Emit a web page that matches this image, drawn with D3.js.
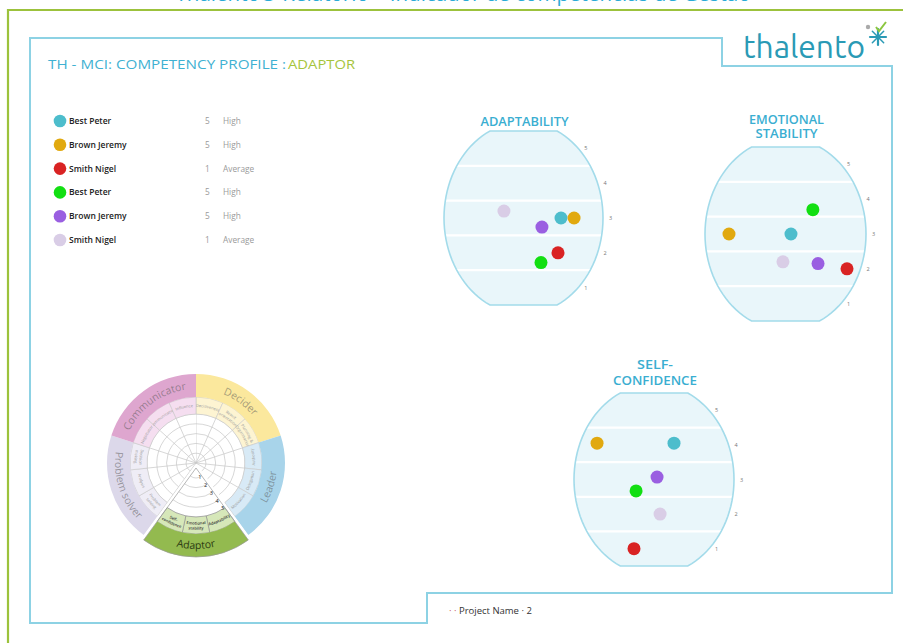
<!DOCTYPE html>
<html><head><meta charset="utf-8">
<script src="https://cdn.jsdelivr.net/npm/d3@7"></script>
<style>body{margin:0;background:#fff}svg{display:block}</style>
</head><body><svg id="c" width="903" height="643"></svg>
<script>
// ---------- data ----------
const reportTitle = "Thalento® Relatório – Indicador de competências de Gestão";
const headerMain = "TH - MCI: COMPETENCY PROFILE : ";
const headerProfile = "ADAPTOR";
const people = ["Best Peter","Brown Jeremy","Smith Nigel","Best Peter","Brown Jeremy","Smith Nigel"];
const personColors = ["#4dbdcc","#e1a90f","#d92323","#12df12","#9a5fe1","#d9cde6"];
const scores = [5,5,1,5,5,1];
const scoreLevels = ["High","High","Average","High","High","Average"];
const panelTitles = [["ADAPTABILITY"],["EMOTIONAL","STABILITY"],["SELF-","CONFIDENCE"]];
const scaleTicks = [1,2,3,4,5];
// per-panel values (order follows people array)
const adaptabilityValue = [3.0,3.0,2.0,1.72,2.74,3.2];
const adaptabilitySpread = [73.6,81.8,71.7,61.0,61.6,37.7];
const emotionalValue = [3.0,3.0,2.0,3.7,2.15,2.2];
const emotionalSpread = [53.4,14.9,88.2,67.0,70.2,48.4];
const confidenceValue = [4.05,4.05,1.0,2.67,3.07,2.0];
const confidenceSpread = [62.5,14.4,37.5,38.8,51.9,53.8];
// wheel
const wheelCategories = ["Decider","Leader","Adaptor","Problem solver","Communicator"];
const wheelSubs = [
  ["Decisiveness","Result|orientation","Planning &|Organisation"],
  ["Authority","Delegation","Motivation"],
  ["Adaptability","Emotional|stability","Self-|confidence"],
  ["Problem|solving","Analysis","Decision|making"],
  ["Negotiator","Communication","Influence"]
];
const wheelOuterColors = ["#fbe89d","#a8d4ea","#93ba4f","#dcd8ea","#dea6cf"];
const wheelInnerColors = ["#fdf4d2","#d8eaf6","#d6e7b9","#efedf6","#f5def0"];
const wheelLevels = [1,2,3,4,5];
const footerText = "Project Name · 2";

// ---------- drawing ----------
const svg = d3.select("#c");
const FONT = "'Open Sans', 'DejaVu Sans', sans-serif";

// top report title (cut by page edge)
svg.append("text").attr("x",463).attr("y",1.2).attr("text-anchor","middle")
  .attr("font-family",FONT).attr("font-size",20).attr("fill","#2aabd6")
  .attr("textLength",575).attr("lengthAdjust","spacingAndGlyphs").text(reportTitle);

// green outer frame
svg.append("path").attr("d","M903,10 H8 V643").attr("fill","none")
  .attr("stroke","#9cc23c").attr("stroke-width",2.2);

// blue inner frame
svg.append("path").attr("d","M30,38 H722 V66 H892 V593 H427 V623 H30 Z")
  .attr("fill","none").attr("stroke","#8dd2e4").attr("stroke-width",2);

// header
svg.append("text").attr("x",48).attr("y",69).attr("font-family",FONT).attr("font-size",13.5)
  .attr("fill","#3fb1d2").attr("textLength",238).attr("lengthAdjust","spacingAndGlyphs").text(headerMain);
svg.append("text").attr("x",288).attr("y",69).attr("font-family",FONT).attr("font-size",13.5)
  .attr("fill","#a6c53c").attr("textLength",67).attr("lengthAdjust","spacingAndGlyphs").text(headerProfile);

// logo
const logo = svg.append("g");
logo.append("text").attr("x",743).attr("y",58).attr("font-family","Ubuntu, 'Open Sans', sans-serif")
  .attr("font-size",31).attr("fill","#2a9ab5").attr("textLength",122).attr("lengthAdjust","spacingAndGlyphs").text("thalento");
const star = logo.append("g").attr("transform","translate(878,37)");
[0,45,90,135].forEach(a=>{
  star.append("line").attr("x1",-8).attr("x2",8).attr("y1",0).attr("y2",0)
    .attr("transform",`rotate(${a})`).attr("stroke","#2a9ab5").attr("stroke-width",a%90===0?2.2:1.5).attr("stroke-linecap","round");
});
star.append("path").attr("d","M-2,-10 L1,-6 L8,-15").attr("fill","none").attr("stroke","#8cc63f").attr("stroke-width",2);
star.append("circle").attr("cx",-10).attr("cy",-10).attr("r",2.2).attr("fill","#aaa");

// legend
const legendY = d3.scalePoint().domain(d3.range(people.length)).range([121,240]);
const leg = svg.append("g");
people.forEach((p,i)=>{
  const y = legendY(i);
  leg.append("circle").attr("cx",60).attr("cy",y).attr("r",6.3).attr("fill",personColors[i]);
  leg.append("text").attr("x",69).attr("y",y+3).attr("font-family",FONT).attr("font-size",8.5)
    .attr("font-weight",600).attr("fill","#222").text(p);
  leg.append("text").attr("x",205).attr("y",y+3).attr("font-family",FONT).attr("font-size",8.3)
    .attr("fill","#9a9a9a").text(scores[i]);
  leg.append("text").attr("x",223).attr("y",y+3).attr("font-family",FONT).attr("font-size",8.3)
    .attr("fill","#9a9a9a").text(scoreLevels[i]);
});

// barrel panels
const panelBoxes = [
  {left:444, top:131, w:159, h:174, titleY:[126], titleW:[88]},
  {left:705, top:147, w:161, h:174, titleY:[124,138], titleW:[75,62]},
  {left:574, top:393, w:160, h:173, titleY:[369,385], titleW:[36,84]}
];
const panelValues = [adaptabilityValue, emotionalValue, confidenceValue];
const panelSpreads = [adaptabilitySpread, emotionalSpread, confidenceSpread];

panelBoxes.forEach((b,pi)=>{
  const g = svg.append("g");
  const cx = b.left + b.w/2, cy = b.top + b.h/2;
  const rx = b.w/2, ry = (b.h/2)*1.103;
  const y = d3.scaleLinear().domain([0.5,5.5]).range([b.top+b.h, b.top]);
  const x = d3.scaleLinear().domain([0,100]).range([b.left, b.left+b.w]);
  const a0 = Math.asin((b.h/2)/ry);
  const pts = [];
  d3.range(0,41).forEach(k=>{ const a=-a0+2*a0*k/40; pts.push([cx+rx*Math.cos(a), cy+ry*Math.sin(a)]); });
  d3.range(0,41).forEach(k=>{ const a=Math.PI-a0+2*a0*k/40; pts.push([cx+rx*Math.cos(a), cy-ry*Math.sin(a-Math.PI)]); });
  const shape = d3.line()(pts)+"Z";
  const clipId = "clip"+pi;
  g.append("clipPath").attr("id",clipId).append("path").attr("d",shape);
  g.append("path").attr("d",shape).attr("fill","#e9f6fa");
  g.append("g").attr("clip-path",`url(#${clipId})`).selectAll("line").data([1.5,2.5,3.5,4.5]).join("line")
    .attr("x1",b.left-5).attr("x2",b.left+b.w+5).attr("y1",d=>y(d)).attr("y2",d=>y(d))
    .attr("stroke","#fff").attr("stroke-width",2.2);
  g.append("path").attr("d",shape).attr("fill","none").attr("stroke","#a3dbea").attr("stroke-width",1.6);
  g.selectAll("text.tk").data(scaleTicks).join("text").attr("class","tk")
    .attr("x",d=>{ const dy=(y(d)-cy)/ry; return cx + rx*Math.sqrt(Math.max(0,1-dy*dy)) + 6; })
    .attr("y",d=>y(d)+2).attr("font-family",FONT).attr("font-size",5.5).attr("fill","#777").text(d=>d);
  panelTitles[pi].forEach((t,k)=>{
    g.append("text").attr("x",cx+1).attr("y",b.titleY[k]).attr("text-anchor","middle")
      .attr("font-family",FONT).attr("font-size",12).attr("font-weight",600).attr("fill","#3aaed1")
      .attr("textLength",b.titleW[k]).attr("lengthAdjust","spacingAndGlyphs").text(t);
  });
  g.selectAll("circle.dot").data(people.map((p,i)=>i)).join("circle").attr("class","dot")
    .attr("cx",i=>x(panelSpreads[pi][i])).attr("cy",i=>y(panelValues[pi][i]))
    .attr("r",6.5).attr("fill",i=>personColors[i]);
});

// ---------- competency wheel ----------
const W = {cx:196, cy:463, R0:49, R1:66, R2:89};
const seg = 2*Math.PI/wheelCategories.length;
const rLevel = d3.scaleLinear().domain([0,5]).range([0,W.R0]);
const wheel = svg.append("g").attr("transform",`translate(${W.cx},${W.cy})`);
let pid = 0;
function pt(r,a){ return [r*Math.sin(a), -r*Math.cos(a)]; }
function arcPathStr(r,a0,a1,ccw){
  const p = d3.path();
  if(!ccw){ p.moveTo(...pt(r,a0)); p.arc(0,0,r,a0-Math.PI/2,a1-Math.PI/2,false); }
  else { p.moveTo(...pt(r,a1)); p.arc(0,0,r,a1-Math.PI/2,a0-Math.PI/2,true); }
  return p.toString();
}
function arcText(parent,r,a0,a1,ccw,txt,size,color,weight){
  const id = "tp"+(pid++);
  parent.append("path").attr("id",id).attr("d",arcPathStr(r,a0,a1,ccw)).attr("fill","none");
  parent.append("text").attr("font-family",FONT).attr("font-size",size).attr("fill",color)
    .attr("font-weight",weight||400)
    .append("textPath").attr("href","#"+id).attr("startOffset","50%").attr("text-anchor","middle").text(txt);
}
const gridStroke = "#c6c6c6";
function drawSegment(parent,i,emph){
  const a0=i*seg, a1=(i+1)*seg, mid=(a0+a1)/2;
  const m = ((mid*180/Math.PI)%360);
  const ccw = m>90 && m<270;
  parent.append("path").attr("d",d3.arc()({innerRadius:0,outerRadius:W.R0,startAngle:a0,endAngle:a1}))
    .attr("fill","#fff");
  wheelLevels.forEach(v=>{
    parent.append("path").attr("d",arcPathStr(rLevel(v),a0,a1,false)).attr("fill","none")
      .attr("stroke",gridStroke).attr("stroke-width",0.7);
  });
  if(!emph){
    d3.range(3).forEach(j=>{
      const a=a0+j*seg/3; const p=pt(W.R0,a);
      parent.append("line").attr("x1",0).attr("y1",0).attr("x2",p[0]).attr("y2",p[1])
        .attr("stroke",gridStroke).attr("stroke-width",0.7);
    });
  }
  wheelSubs[i].forEach((s,j)=>{
    const b0=a0+j*seg/3, b1=b0+seg/3;
    parent.append("path").attr("d",d3.arc()({innerRadius:W.R0,outerRadius:W.R1,startAngle:b0,endAngle:b1}))
      .attr("fill",wheelInnerColors[i]).attr("stroke",emph?"#8a8a8a":"#c8c8c8").attr("stroke-width",0.6);
    const lines = s.split("|");
    const midR = (W.R0+W.R1)/2;
    const col = emph?"#333":"#9a9a9a";
    const fs = 4;
    if(lines.length===1){
      arcText(parent, ccw?midR+1.5:midR-1.5, b0,b1,ccw,lines[0],fs,col,emph?600:400);
    } else {
      arcText(parent, ccw?midR-0.8:midR+0.8, b0,b1,ccw,lines[0],fs,col,emph?600:400);
      arcText(parent, ccw?midR+4.2:midR-4.2, b0,b1,ccw,lines[1],fs,col,emph?600:400);
    }
  });
  parent.append("path").attr("d",d3.arc()({innerRadius:W.R1,outerRadius:W.R2,startAngle:a0,endAngle:a1}))
    .attr("fill",wheelOuterColors[i]);
  const midO = (W.R1+W.R2)/2;
  arcText(parent, ccw?midO+3.5:midO-3.5, a0,a1,ccw,wheelCategories[i],10.5,emph?"#2c3b12":"rgba(90,90,90,0.55)");
}
const emphIdx = wheelCategories.indexOf("Adaptor");
wheelCategories.forEach((c,i)=>{ if(i!==emphIdx) drawSegment(wheel,i,false); });
const midE = (emphIdx+0.5)*seg;
const off = pt(5,midE);
const eg = wheel.append("g").attr("transform",`translate(${off[0]},${off[1]})`);
eg.append("path").attr("d",d3.arc()({innerRadius:0,outerRadius:W.R2,startAngle:emphIdx*seg,endAngle:(emphIdx+1)*seg}))
  .attr("fill","#fff").attr("stroke","#fff").attr("stroke-width",5).attr("stroke-linejoin","round");
drawSegment(eg,emphIdx,true);
eg.append("path").attr("d",d3.arc()({innerRadius:0,outerRadius:W.R2,startAngle:emphIdx*seg,endAngle:(emphIdx+1)*seg}))
  .attr("fill","none").attr("stroke","#9a9a9a").attr("stroke-width",0.7);
const edgeA = emphIdx*seg;
eg.selectAll("text.lv").data(wheelLevels).join("text").attr("class","lv")
  .attr("x",v=>{ const p=pt(rLevel(v)+1,edgeA); return p[0]-3.2*Math.cos(edgeA-Math.PI) ; })
  .attr("y",v=>{ const p=pt(rLevel(v)+1,edgeA); return p[1]+2; })
  .attr("text-anchor","middle").attr("font-family",FONT).attr("font-size",5.5).attr("fill","#222").text(v=>v);

// footer
const ft = svg.append("text").attr("x",449).attr("y",614).attr("font-family",FONT).attr("font-size",9.5).attr("fill","#333");
ft.append("tspan").attr("fill","#c65050").text("· · ");
ft.append("tspan").text(footerText);
</script></body></html>
